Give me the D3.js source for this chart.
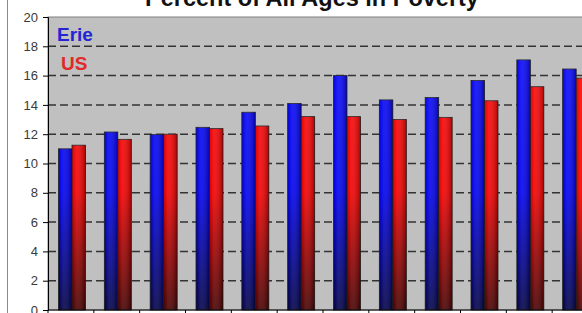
<!DOCTYPE html>
<html>
<head>
<meta charset="utf-8">
<script src="https://cdn.jsdelivr.net/npm/d3@7"></script>
<style>
  body { margin: 0; background: #fff; }
  svg { display: block; font-family: Arial, "Liberation Sans", sans-serif; }
</style>
</head>
<body>
<div id="chart"></div>
<script>
// values
const years = ['1997', '1998', '1999', '2000', '2001', '2002', '2003', '2004', '2005', '2006', '2007', '2008']
const erie = [11.0, 12.15, 11.97, 12.47, 13.5, 14.1, 16.0, 14.34, 14.5, 15.67, 17.07, 16.45]
const us = [11.25, 11.65, 12.0, 12.38, 12.56, 13.2, 13.2, 13.0, 13.15, 14.28, 15.24, 15.83]
const series = ['Erie', 'US']
const yTicks = [0, 2, 4, 6, 8, 10, 12, 14, 16, 18, 20]

let width = 582
let height = 313
let margin = { top: 17, left: 48, right: -16, bottom: 3 }

let svg = d3.select('#chart')
  .append('svg')
  .attr('width', width)
  .attr('height', height)

const plotW = width - margin.left - margin.right
const plotH = height - margin.top - margin.bottom

const x = d3.scaleBand()
  .domain(years)
  .range([margin.left, margin.left + plotW])

const x1 = d3.scaleBand()
  .domain(series)
  .range([10.5, 37.5])

const y = d3.scaleLinear()
  .domain([0, 20])
  .range([margin.top + plotH, margin.top])

// gradients
const defs = svg.append('defs')
function vGrad(id, top, mid, bottom) {
  const g = defs.append('linearGradient')
    .attr('id', id)
    .attr('gradientUnits', 'userSpaceOnUse')
    .attr('x1', 0).attr('x2', 0)
    .attr('y1', y(20)).attr('y2', y(0))
  g.append('stop').attr('offset', '0%').attr('stop-color', top)
  g.append('stop').attr('offset', '60%').attr('stop-color', mid)
  g.append('stop').attr('offset', '100%').attr('stop-color', bottom)
}
vGrad('gradErie', '#0a0aff', '#0000f0', '#000048')
vGrad('gradUS', '#ff0a0a', '#f20000', '#480000')

const shade = defs.append('linearGradient')
  .attr('id', 'shade')
  .attr('x1', 0).attr('x2', 1).attr('y1', 0).attr('y2', 0)
shade.append('stop').attr('offset', '0%').attr('stop-color', '#000').attr('stop-opacity', 0.1)
shade.append('stop').attr('offset', '30%').attr('stop-color', '#fff').attr('stop-opacity', 0.1)
shade.append('stop').attr('offset', '100%').attr('stop-color', '#000').attr('stop-opacity', 0.3)

// outer chart border on the left
svg.append('line')
  .attr('x1', 7.5).attr('x2', 7.5)
  .attr('y1', 0).attr('y2', height)
  .attr('stroke', '#8a8a8a')

// plot background
svg.append('rect')
  .attr('x', margin.left)
  .attr('y', margin.top)
  .attr('width', plotW)
  .attr('height', plotH)
  .attr('fill', '#c0c0c0')
  .attr('stroke', '#808080')
  .attr('stroke-width', 1)

// dashed gridlines
svg.selectAll('.grid')
  .data(yTicks.filter(d => d > 0 && d < 20))
  .enter()
  .append('line')
  .attr('class', 'grid')
  .attr('x1', margin.left)
  .attr('x2', margin.left + plotW)
  .attr('y1', d => y(d))
  .attr('y2', d => y(d))
  .attr('stroke', '#333')
  .attr('stroke-width', 1.5)
  .attr('stroke-dasharray', '8,4')

// bars
const groups = svg.selectAll('.group')
  .data(years)
  .enter()
  .append('g')
  .attr('class', 'group')
  .attr('transform', d => 'translate(' + x(d) + ',0)')

const barData = (d, i) => [
  { key: 'Erie', value: erie[i] },
  { key: 'US', value: us[i] }
]

groups.selectAll('.bar')
  .data(barData)
  .enter()
  .append('rect')
  .attr('class', 'bar')
  .attr('x', d => x1(d.key))
  .attr('y', d => y(d.value))
  .attr('width', x1.bandwidth())
  .attr('height', d => y(0) - y(d.value))
  .attr('fill', d => d.key === 'Erie' ? 'url(#gradErie)' : 'url(#gradUS)')
  .attr('stroke', '#222')
  .attr('stroke-width', 0.8)

groups.selectAll('.shade')
  .data(barData)
  .enter()
  .append('rect')
  .attr('class', 'shade')
  .attr('x', d => x1(d.key))
  .attr('y', d => y(d.value))
  .attr('width', x1.bandwidth())
  .attr('height', d => y(0) - y(d.value))
  .attr('fill', 'url(#shade)')

// y axis
const yAxis = svg.append('g')
  .attr('transform', 'translate(' + margin.left + ',0)')
  .call(d3.axisLeft(y).tickValues(yTicks).tickSize(5).tickPadding(5))
yAxis.select('.domain').attr('stroke', '#000')
yAxis.selectAll('.tick line').attr('stroke', '#000')
yAxis.selectAll('.tick text')
  .attr('font-size', 13)
  .attr('fill', '#3a3a3a')
  .attr('font-family', 'Arial, "Liberation Sans", sans-serif')

// x axis line with band ticks
svg.append('line')
  .attr('x1', margin.left).attr('x2', margin.left + plotW)
  .attr('y1', y(0)).attr('y2', y(0))
  .attr('stroke', '#000')
svg.selectAll('.xtick')
  .data(years)
  .enter()
  .append('line')
  .attr('class', 'xtick')
  .attr('x1', d => x(d)).attr('x2', d => x(d))
  .attr('y1', y(0)).attr('y2', y(0) + 5)
  .attr('stroke', '#000')

// legend
svg.append('text')
  .attr('x', 57).attr('y', 41)
  .attr('font-size', 19).attr('font-weight', 'bold')
  .attr('fill', '#2424d4')
  .text('Erie')
svg.append('text')
  .attr('x', 61).attr('y', 70)
  .attr('font-size', 19).attr('font-weight', 'bold')
  .attr('fill', '#e02a2a')
  .text('US')

// title (top is cut off in the reference)
svg.append('text')
  .attr('x', 312).attr('y', 6)
  .attr('text-anchor', 'middle')
  .attr('font-size', 23.5).attr('font-weight', 'bold')
  .attr('fill', '#111')
  .text('Percent of All Ages in Poverty')
</script>
</body>
</html>
